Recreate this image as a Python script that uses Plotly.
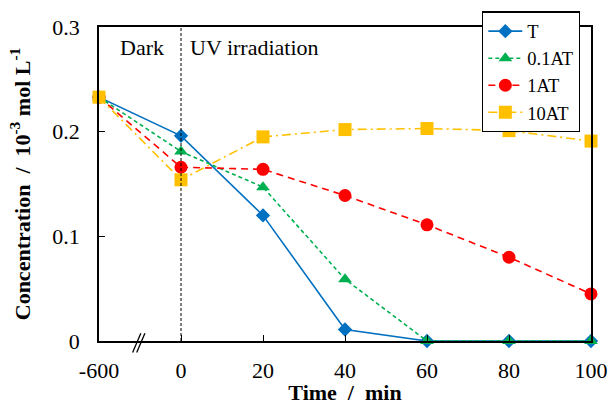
import plotly.graph_objects as go

# ---- data ----
time_labels = ["-600", "0", "20", "40", "60", "80", "100"]
series_names = ["T", "0.1AT", "1AT", "10AT"]
conc_T = [0.233, 0.196, 0.120, 0.011, 0.0, 0.0, 0.0]
conc_01AT = [0.233, 0.181, 0.147, 0.059, 0.0, 0.0, 0.0]
conc_1AT = [0.233, 0.166, 0.164, 0.139, 0.111, 0.080, 0.045]
conc_10AT = [0.233, 0.154, 0.195, 0.202, 0.203, 0.201, 0.191]
y_ticks = [0, 0.1, 0.2, 0.3]
y_ticktext = ["0", "0.1", "0.2", "0.3"]

FONT = '"Liberation Serif", "Times New Roman", serif'

styles = [
    dict(color="#0070C0", dash="solid", symbol="diamond", size=11),
    dict(color="#00B050", dash="4px,3px", symbol="triangle-up", size=12),
    dict(color="#FF0000", dash="7px,5px", symbol="circle", size=13),
    dict(color="#FFC000", dash="9px,4px,2px,4px", symbol="square", size=13),
]
values = [conc_T, conc_01AT, conc_1AT, conc_10AT]

fig = go.Figure()
for name, vals, st in zip(series_names, values, styles):
    fig.add_trace(go.Scatter(
        x=time_labels, y=vals, name=name, mode="lines+markers",
        line=dict(color=st["color"], width=1.6, dash=st["dash"]),
        marker=dict(color=st["color"], symbol=st["symbol"], size=st["size"]),
        cliponaxis=False,
    ))

fig.update_layout(
    width=609, height=405,
    margin=dict(l=99, r=18, t=27, b=64, autoexpand=False),
    paper_bgcolor="white", plot_bgcolor="white",
    font=dict(family=FONT, size=22, color="black"),
    showlegend=True,
    legend=dict(
        xref="container", yref="container",
        x=0.7915, y=0.972, xanchor="left", yanchor="top",
        bgcolor="white", bordercolor="black", borderwidth=1.3,
        font=dict(family=FONT, size=18.5, color="black"),
        tracegroupgap=0, itemwidth=34,
    ),
    xaxis=dict(
        type="category", range=[0, 6], automargin=False,
        showline=True, linecolor="black", linewidth=1.5, mirror=True,
        ticks="inside", ticklen=6, tickcolor="black", tickwidth=1.2,
        ticklabelstandoff=9,
        showgrid=False, zeroline=False,
        tickfont=dict(family=FONT, size=22),
        title=dict(text="<b>Time  /  min</b>", font=dict(family=FONT, size=22), standoff=7),
    ),
    yaxis=dict(
        range=[0, 0.3], tickvals=y_ticks, ticktext=y_ticktext, automargin=False,
        showline=True, linecolor="black", linewidth=1.5, mirror=True,
        ticks="inside", ticklen=6, tickcolor="black", tickwidth=1.2,
        ticklabelstandoff=13,
        showgrid=False, zeroline=False,
        tickfont=dict(family=FONT, size=22),
        title=dict(text="<b>Concentration  /  10<sup>-3</sup> mol L<sup>-1</sup></b>",
                   font=dict(family=FONT, size=22), standoff=16),
    ),
)

# dashed line at t = 0
fig.add_shape(type="line", xref="x", yref="paper", x0=1, x1=1, y0=0, y1=1,
              line=dict(color="black", width=1, dash="3px,2px"))
# axis break marks
for dx in (0.0, 0.05):
    fig.add_shape(type="line", xref="x", yref="paper",
                  x0=0.41 + dx, x1=0.51 + dx, y0=-0.037, y1=0.025,
                  line=dict(color="black", width=1.3))

fig.add_annotation(text="Dark", xref="x", yref="paper", x=0.52, y=0.936,
                   xanchor="center", yanchor="middle",
                   showarrow=False, font=dict(family=FONT, size=22))
fig.add_annotation(text="UV irradiation", xref="x", yref="paper", x=1.085, y=0.936,
                   xanchor="left", yanchor="middle",
                   showarrow=False, font=dict(family=FONT, size=22))

fig.write_html(
    "out.html",
    config={"displayModeBar": False},
    post_script=(
        "document.body.style.margin='0';"
        "document.body.style.overflow='hidden';"
        "document.documentElement.style.overflow='hidden';"
    ),
)
